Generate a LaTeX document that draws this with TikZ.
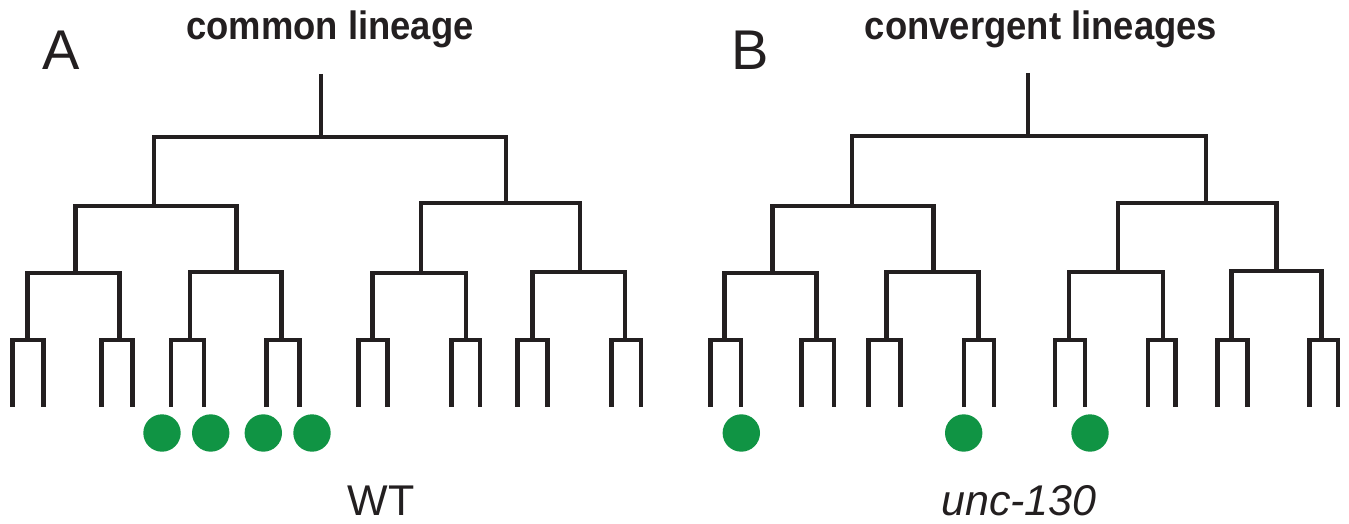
\documentclass[tikz,border=0pt]{standalone}
\usepackage{fontspec}
\setmainfont{Liberation Sans}
\definecolor{lineblack}{RGB}{35,31,32}
\definecolor{cellgreen}{RGB}{16,148,68}
\tikzset{
  branch/.style={draw=lineblack, line width=2.4pt},
  cell/.style={circle, fill=cellgreen, minimum size=18.7pt, inner sep=0pt},
  heading/.style={anchor=base, text=lineblack, font=\fontsize{19.8}{22}\selectfont\bfseries},
  panel/.style={anchor=base west, text=lineblack, font=\fontsize{28}{30}\selectfont},
  strain/.style={anchor=base, text=lineblack, font=\fontsize{21.5}{24}\selectfont},
}

\begin{document}
\begin{tikzpicture}[x=0.5pt, y=-0.5pt]
  \useasboundingbox (0,0) rectangle (1349,524);

  % common lineage
  \coordinate (tA) at (321,74);
  \coordinate (A) at (321,137);
  \coordinate (A0) at (154,206);
  \coordinate (A1) at (506,203);
  \foreach \n/\x/\y in {00/75.7/273, 01/236.7/272, 10/421/273, 11/580/272}
    \coordinate (A\n) at (\x,\y);
  \foreach \n/\x in {000/27.7, 001/119.3, 010/190, 011/281.7,
                     100/372.3, 101/466, 110/532.3, 111/625}
    \coordinate (A\n) at (\x,340);
  \foreach \n/\x in {0000/12.7, 0001/43.3, 0010/101.7, 0011/132.3,
                     0100/171, 0101/204, 0110/266.7, 0111/299.3,
                     1000/358.3, 1001/387.7, 1010/451.7, 1011/480,
                     1100/517.7, 1101/547.7, 1110/611.7, 1111/641}
    \coordinate (A\n) at (\x,407);

  % convergent lineages
  \coordinate (tB) at (1028,73);
  \coordinate (B) at (1028,136);
  \coordinate (B0) at (852,206);
  \coordinate (B1) at (1206,203);
  \foreach \n/\x/\y in {00/772.3/273, 01/933.3/272, 10/1118/272, 11/1276.7/271}
    \coordinate (B\n) at (\x,\y);
  \foreach \n/\x in {000/724.3, 001/816.7, 010/886.7, 011/978.7,
                     100/1069, 101/1163, 110/1231.3, 111/1321.7}
    \coordinate (B\n) at (\x,340);
  \foreach \n/\x in {0000/710.7, 0001/741, 0010/801.7, 0011/834,
                     0100/868.3, 0101/900.7, 0110/964, 0111/994,
                     1000/1055, 1001/1085, 1010/1148, 1011/1175.7,
                     1100/1217.3, 1101/1247.7, 1110/1309.7, 1111/1338}
    \coordinate (B\n) at (\x,407);

  % branches
  \foreach \t in {A,B} {
    \draw[branch] (t\t) -- (\t) -| (\t0);
    \draw[branch] (\t) -| (\t1);
    \foreach \p in {0,1,00,01,10,11,000,001,010,011,100,101,110,111} {
      \draw[branch] (\t\p) -| (\t\p0);
      \draw[branch] (\t\p) -| (\t\p1);
    }
  }

  % marked cells
  \node[cell] (cA1) at (162,433) {};
  \node[cell] (cA2) at (210.7,433) {};
  \node[cell] (cA3) at (263.3,433) {};
  \node[cell] (cA4) at (312,433) {};
  \node[cell] (cB1) at (741.3,433) {};
  \node[cell] (cB2) at (963.7,433) {};
  \node[cell] (cB3) at (1090,433) {};

  % labels
  \node[panel] (pA) at (35,70) {A};
  \node[panel] (pB) at (724,70) {B};
  \node[heading] (hA) at (330,40) {\scalebox{0.92}[1]{common lineage}};
  \node[heading] (hB) at (1041,40) {\scalebox{0.92}[1]{convergent lineages}};
  \node[strain] (sA) at (381,515) {WT};
  \node[strain] (sB) at (1019,515) {\itshape unc-130};
\end{tikzpicture}
\end{document}
